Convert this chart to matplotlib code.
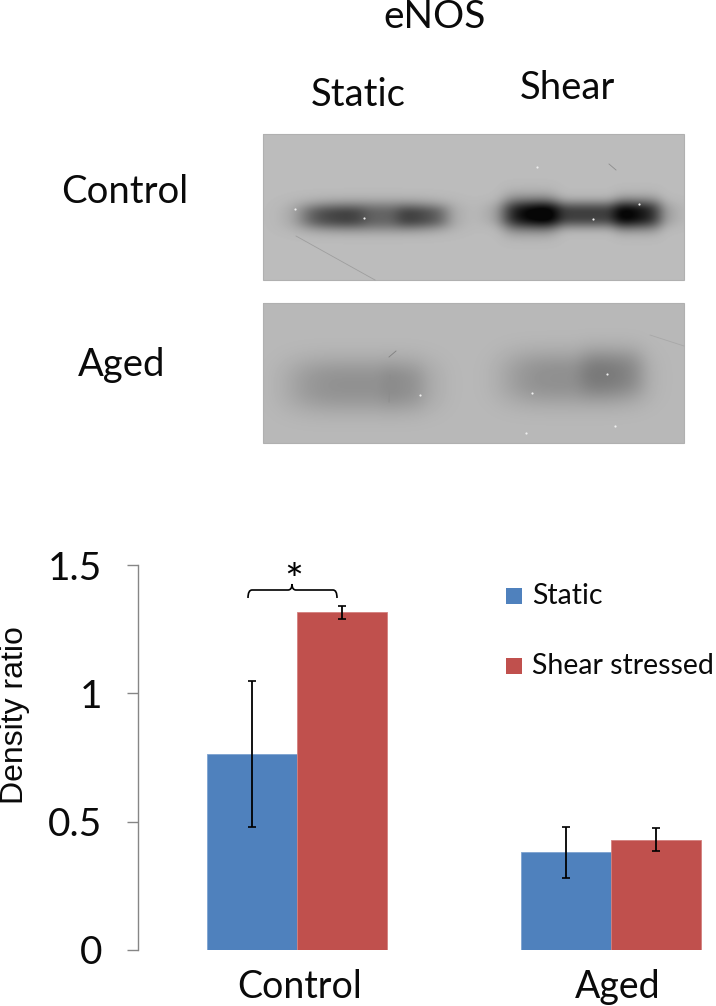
import numpy as np
from matplotlib import pyplot as plt
from matplotlib.path import Path
from matplotlib.patches import PathPatch, Rectangle
from matplotlib.transforms import ScaledTranslation

W, H = 716, 1006

groups = ["Control", "Aged"]
static_vals = [0.765, 0.38]
static_err = [0.285, 0.098]
shear_vals = [1.315, 0.43]
shear_err = [0.025, 0.045]
y_ticks = [0, 0.5, 1, 1.5]
y_tick_labels = ["0", "0.5", "1", "1.5"]
series_names = ["Static", "Shear stressed"]

# blot bands: centre x, centre y, half width x, half width y, darkness
top_bands = [(373, 216, 74, 15, 88), (333, 216, 32, 11, 36), (422, 216, 26, 11, 40),
             (582, 214, 78, 13, 125), (530, 214, 28, 19, 85), (637, 214, 24, 17, 75)]
bottom_bands = [(360, 385, 72, 27, 38), (402, 385, 22, 24, 8),
                (573, 378, 70, 27, 40), (612, 371, 32, 24, 24)]
# small white specks on the film: x, y
specks = [(295, 209), (537, 167), (639, 204), (593, 219), (364, 218), (420, 395),
          (607, 374), (526, 433), (615, 426), (532, 393)]
# scratches: x0, y0, x1, y1, grey
scratches = [(296, 236, 375, 280, 0.62), (609, 164, 616, 170, 0.55), (389, 357, 396, 351, 0.5),
             (390, 375, 389, 402, 0.55), (650, 335, 684, 346, 0.66)]

LATO = "Lato"
BLUE = "#4f81bd"
RED = "#c0504d"
INK = "#0a0a0a"


def blot(bands, x0, x1, y0, y1, bg):
    xs, ys = np.meshgrid(np.arange(x0, x1), np.arange(y0, y1))
    dark = np.zeros(xs.shape)
    for cx, cy, sx, sy, amp in bands:
        dark += amp * np.exp(-(np.abs(xs - cx) / sx) ** 4 - (np.abs(ys - cy) / sy) ** 2.5)
    return np.clip(bg - dark, 6, 255)


fig = plt.figure(figsize=(W / 100, H / 100), dpi=100)

# bar chart, axis line at x=138 and bars placed through the data scale
y0_px, y15_px = 950, 565
x_lo, x_hi = -0.506, 1.335
ax = fig.add_axes([138 / W, 1 - y0_px / H, (W - 138) / W, (y0_px - y15_px) / H])
x = np.arange(len(groups))
width = 0.286
ekw = dict(ecolor="black", elinewidth=1.3, capsize=3, capthick=1.2)
ax.bar(x - width / 2, static_vals, width, color=BLUE, edgecolor="#7ea3d0", linewidth=0.6,
       yerr=static_err, error_kw=ekw)
ax.bar(x + width / 2, shear_vals, width, color=RED, edgecolor="#d4807e", linewidth=0.6,
       yerr=shear_err, error_kw=ekw)
ax.set_xlim(x_lo, x_hi)
ax.set_ylim(0, 1.5)
ax.set_yticks(y_ticks)
ax.set_yticklabels(y_tick_labels, family=LATO, fontsize=28, color=INK)
ax.set_xticks(x)
ax.set_xticklabels(groups, family=LATO, fontsize=27, color=INK)
ax.tick_params(axis="y", length=8, width=1, color="#868686", pad=18)
ax.tick_params(axis="x", length=0, pad=14)
for lab, dx in zip(ax.get_xticklabels(), [3, 7]):
    lab.set_transform(lab.get_transform() + ScaledTranslation(dx / 100, 0, fig.dpi_scale_trans))
for side in ["top", "right", "bottom"]:
    ax.spines[side].set_visible(False)
ax.spines["left"].set_color("#868686")
ax.spines["left"].set_linewidth(1)
ax.patch.set_alpha(0)

# overlay in image pixels for the blots, labels, legend and bracket
ov = fig.add_axes([0, 0, 1, 1], zorder=5)
ov.axis("off")

top_img = blot(top_bands, 263, 684, 134, 280, 188)
bottom_img = blot(bottom_bands, 263, 684, 303, 443, 184)
ov.imshow(top_img, extent=(263, 684, 280, 134), cmap="gray", vmin=0, vmax=255, aspect="auto",
          interpolation="bilinear")
ov.imshow(bottom_img, extent=(263, 684, 443, 303), cmap="gray", vmin=0, vmax=255, aspect="auto",
          interpolation="bilinear")
ov.set_xlim(0, W)
ov.set_ylim(H, 0)
for box in [(263, 134, 421, 146), (263, 303, 421, 140)]:
    ov.add_patch(Rectangle(box[:2], box[2], box[3], fill=False, edgecolor="#b0b0b0", linewidth=0.8))
for sx0, sy0, sx1, sy1, grey in scratches:
    ov.plot([sx0, sx1], [sy0, sy1], color=str(grey), lw=0.6)
ov.scatter([s[0] for s in specks], [s[1] for s in specks], s=2.5, color="#eeeeee", linewidths=0)

ov.text(435, 17, "eNOS", family=LATO, fontsize=28, ha="center", va="center", color=INK)
ov.text(358, 95, "Static", family=LATO, fontsize=27.5, ha="center", va="center", color=INK)
ov.text(567, 88, "Shear", family=LATO, fontsize=27.5, ha="center", va="center", color=INK)
ov.text(125, 192, "Control", family=LATO, fontsize=27.5, ha="center", va="center", color=INK)
ov.text(122, 365, "Aged", family=LATO, fontsize=27.5, ha="center", va="center", color=INK)
ov.text(15, 715, "Density ratio", family="Liberation Sans", fontsize=23, rotation=90,
        ha="center", va="center", color=INK)

# legend
for name, col, yc in zip(series_names, [BLUE, RED], [596, 666]):
    ov.add_patch(Rectangle((506, yc - 8), 16, 16, facecolor=col, edgecolor="none"))
    ov.text(532, yc, name, family=LATO, fontsize=20.5, ha="left", va="center", color=INK)

# significance bracket
verts = [(248, 598), (248, 590), (252, 590), (288, 590), (292, 590), (292, 584),
         (292, 590), (296, 590), (333, 590), (337, 590), (337, 598)]
codes = [Path.MOVETO, Path.CURVE3, Path.CURVE3, Path.LINETO, Path.CURVE3, Path.CURVE3,
         Path.CURVE3, Path.CURVE3, Path.LINETO, Path.CURVE3, Path.CURVE3]
ov.add_patch(PathPatch(Path(verts, codes), fill=False, edgecolor="black", linewidth=1.2))
ov.text(294, 582, "*", family=LATO, fontsize=32, ha="center", va="center", color="black")

fig.savefig("out.png", dpi=100)
